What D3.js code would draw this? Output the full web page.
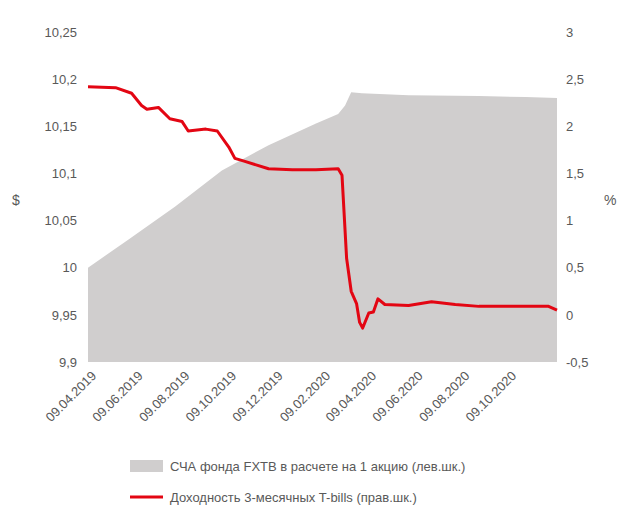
<!DOCTYPE html>
<html>
<head>
<meta charset="utf-8">
<style>
body { margin:0; background:#fff; }
svg text { font-family: "Liberation Sans", Arial, sans-serif; fill:#595959; }
</style>
</head>
<body>
<svg width="620" height="524"></svg>
<script src="https://cdn.jsdelivr.net/npm/d3@7"></script>
<script>
// NAV per share (left axis)
var navDates = ["09.04.2019","01.06.2019","01.08.2019","01.10.2019","01.12.2019","01.02.2020","01.03.2020","10.03.2020","18.03.2020","01.04.2020","01.06.2020","01.09.2020","01.11.2020","12.12.2020"];
var navValues = [10.0,10.03,10.065,10.103,10.13,10.153,10.163,10.172,10.186,10.185,10.183,10.182,10.181,10.18];
// 3-month T-bills yield (right axis)
var yDates = ["09.04.2019","15.05.2019","05.06.2019","18.06.2019","25.06.2019","10.07.2019","25.07.2019","10.08.2019","18.08.2019","10.09.2019","25.09.2019","10.10.2019","18.10.2019","30.10.2019","01.12.2019","01.01.2020","01.02.2020","01.03.2020","06.03.2020","12.03.2020","18.03.2020","25.03.2020","29.03.2020","02.04.2020","10.04.2020","16.04.2020","22.04.2020","01.05.2020","01.06.2020","01.07.2020","01.08.2020","01.09.2020","01.10.2020","10.11.2020","01.12.2020","12.12.2020"];
var yValues = [2.42,2.41,2.35,2.22,2.18,2.20,2.08,2.05,1.95,1.97,1.95,1.78,1.66,1.63,1.55,1.54,1.54,1.55,1.48,0.6,0.25,0.12,-0.08,-0.14,0.02,0.03,0.17,0.11,0.10,0.14,0.11,0.09,0.09,0.09,0.09,0.05];
var leftTicks = [9.9,9.95,10,10.05,10.1,10.15,10.2,10.25];
var rightTicks = [-0.5,0,0.5,1,1.5,2,2.5,3];
var xTicks = ["09.04.2019","09.06.2019","09.08.2019","09.10.2019","09.12.2019","09.02.2020","09.04.2020","09.06.2020","09.08.2020","09.10.2020"];
var legendLabels = ["СЧА фонда FXTB в расчете на 1 акцию (лев.шк.)","Доходность 3-месячных T-bills (прав.шк.)"];

var parse = d3.timeParse("%d.%m.%Y");
var svg = d3.select("svg");
var L = 88, R = 557, T = 32, B = 362;

var x = d3.scaleTime().domain([parse("09.04.2019"), parse("12.12.2020")]).range([L, R]);
var yl = d3.scaleLinear().domain([9.9, 10.25]).range([B, T]);
var yr = d3.scaleLinear().domain([-0.5, 3]).range([B, T]);

var nav = navDates.map(function(d,i){ return {d:parse(d), v:navValues[i]}; });
var yl3 = yDates.map(function(d,i){ return {d:parse(d), v:yValues[i]}; });

svg.append("path").datum(nav)
  .attr("fill","#d0cece")
  .attr("d", d3.area().x(function(d){return x(d.d);}).y0(B).y1(function(d){return yl(d.v);}));

svg.append("path").datum(yl3)
  .attr("fill","none").attr("stroke","#e30613").attr("stroke-width",3)
  .attr("stroke-linejoin","round")
  .attr("d", d3.line().x(function(d){return x(d.d);}).y(function(d){return yr(d.v);}));

var ga = svg.append("g").attr("transform","translate(" + (L-8) + ",0)")
  .call(d3.axisLeft(yl).tickValues(leftTicks).tickSize(0).tickFormat(function(d){return String(d).replace(".",",");}));
var gb = svg.append("g").attr("transform","translate(" + (R+6) + ",0)")
  .call(d3.axisRight(yr).tickValues(rightTicks).tickSize(0).tickFormat(function(d){return String(d).replace(".",",");}));
var gc = svg.append("g").attr("transform","translate(0," + (B+6) + ")")
  .call(d3.axisBottom(x).tickValues(xTicks.map(parse)).tickSize(0).tickFormat(d3.timeFormat("%d.%m.%Y")));
[ga,gb,gc].forEach(function(g){ g.select(".domain").remove(); g.selectAll("text").style("font-size","13px").attr("fill","#595959"); });
gc.selectAll("text").attr("text-anchor","end").attr("dx",0).attr("dy","0.7em")
  .attr("transform","rotate(-45)");

svg.append("text").attr("x",12).attr("y",205).style("font-size","14px").text("$");
svg.append("text").attr("x",604).attr("y",205).style("font-size","14px").text("%");

svg.append("rect").attr("x",130).attr("y",460).attr("width",33).attr("height",12).attr("fill","#d0cece");
svg.append("text").attr("x",170).attr("y",471).style("font-size","13px").text(legendLabels[0]);
svg.append("line").attr("x1",130).attr("x2",163).attr("y1",497).attr("y2",497).attr("stroke","#e30613").attr("stroke-width",3);
svg.append("text").attr("x",170).attr("y",502).style("font-size","13px").text(legendLabels[1]);
</script>
</body>
</html>
